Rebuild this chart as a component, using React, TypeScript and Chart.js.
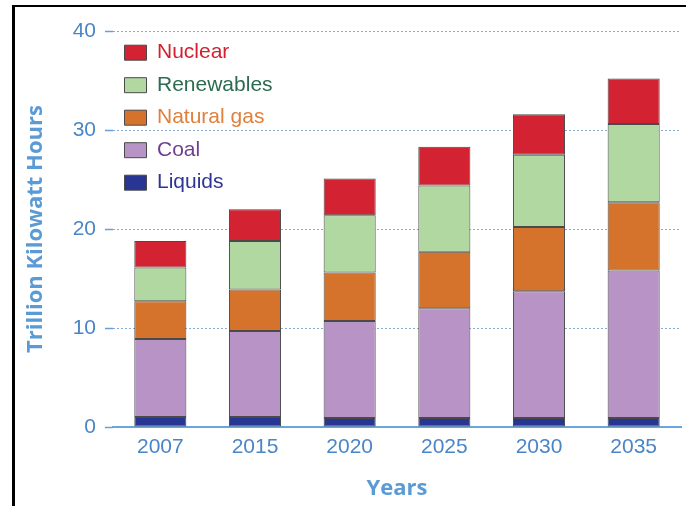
import React, { useEffect, useRef } from "react";
import { Chart, registerables } from "chart.js";

Chart.register(...registerables);

const years = ["2007", "2015", "2020", "2025", "2030", "2035"];
const liquids = [1.0, 1.0, 0.9, 0.9, 0.9, 0.9];
const coal = [7.9, 8.7, 9.8, 11.1, 12.8, 14.9];
const naturalGas = [3.8, 4.2, 4.9, 5.7, 6.5, 6.9];
const renewables = [3.4, 4.9, 5.8, 6.7, 7.3, 7.9];
const nuclear = [2.7, 3.2, 3.7, 3.9, 4.1, 4.6];

const seriesNames = ["Liquids", "Coal", "Natural gas", "Renewables", "Nuclear"];
const seriesData = [liquids, coal, naturalGas, renewables, nuclear];
const fillColors = ["#283593", "#b894c6", "#d5722b", "#b0d8a0", "#d32232"];
const textColors = ["#2f3596", "#6e3f8e", "#e0803a", "#2b6b50", "#d3202f"];

const tickColor = "#4a86c6";
const titleColor = "#5b9bd5";
const gridColor = "#86acd6";

export default function App() {
  const canvasRef = useRef<HTMLCanvasElement | null>(null);

  useEffect(() => {
    if (!canvasRef.current) return;
    const chart = new Chart(canvasRef.current, {
      type: "bar",
      data: {
        labels: years,
        datasets: seriesNames.map((name, i) => ({
          label: name,
          data: seriesData[i],
          backgroundColor: fillColors[i],
          borderColor: "#4a4a4a",
          borderWidth: 1,
          borderSkipped: false,
          categoryPercentage: 0.55,
          barPercentage: 1,
        })),
      },
      options: {
        animation: false,
        responsive: true,
        maintainAspectRatio: false,
        layout: { padding: { left: 0, right: 5, top: 31, bottom: 0 } },
        plugins: {
          tooltip: { enabled: false },
          legend: {
            position: "chartArea" as any,
            align: "start",
            reverse: true,
            title: {
              display: true,
              text: " ",
              font: { size: 1 },
              padding: { top: 29.5, bottom: 0 },
            },
            labels: {
              boxWidth: 22,
              boxHeight: 15,
              padding: 11.5,
              font: { family: "'Liberation Sans', Arial, sans-serif", size: 21 },
              generateLabels: (c: any) => {
                const items = (Chart.defaults.plugins.legend.labels as any).generateLabels(c);
                items.forEach((it: any) => {
                  it.fontColor = textColors[it.datasetIndex];
                });
                return items;
              },
            },
          },
        },
        scales: {
          x: {
            stacked: true,
            grid: { display: false, drawTicks: false },
            border: { display: true, color: "#6aa6dc", width: 2 },
            ticks: {
              color: tickColor,
              padding: 8,
              font: { family: "'Liberation Sans', Arial, sans-serif", size: 21 },
            },
            title: {
              display: true,
              text: "Years",
              color: titleColor,
              font: { family: "'Open Sans', sans-serif", size: 22, weight: "bold" },
              padding: { top: 0, bottom: 4 },
            },
            afterFit: (scale: any) => {
              scale.height = 79;
            },
          },
          y: {
            stacked: true,
            min: 0,
            max: 40,
            ticks: {
              stepSize: 10,
              color: tickColor,
              padding: 9,
              font: { family: "'Liberation Sans', Arial, sans-serif", size: 21 },
            },
            grid: {
              color: (ctx: any) => (ctx.tick && ctx.tick.value === 0 ? "rgba(0,0,0,0)" : gridColor),
              lineWidth: 1,
              drawTicks: true,
              tickLength: 8,
              tickColor: "#6a9fd6",
              tickWidth: 1.5,
            },
            border: { display: false, dash: [2, 2] },
            title: {
              display: true,
              text: "Trillion Kilowatt Hours",
              color: titleColor,
              font: { family: "'Open Sans', sans-serif", size: 22, weight: "bold" },
              padding: { top: 23, bottom: 0 },
            },
            afterFit: (scale: any) => {
              scale.width = 113;
            },
          },
        },
      },
    });
    return () => chart.destroy();
  }, []);

  return (
    <>
      <div
        style={{
          position: "absolute",
          left: 12,
          top: 5,
          width: 674,
          height: 501,
          boxSizing: "border-box",
          borderTop: "2px solid #000",
          borderLeft: "3px solid #000",
        }}
      />
      <div style={{ position: "absolute", left: 0, top: 0, width: 686, height: 506 }}>
        <canvas ref={canvasRef} />
      </div>
    </>
  );
}
